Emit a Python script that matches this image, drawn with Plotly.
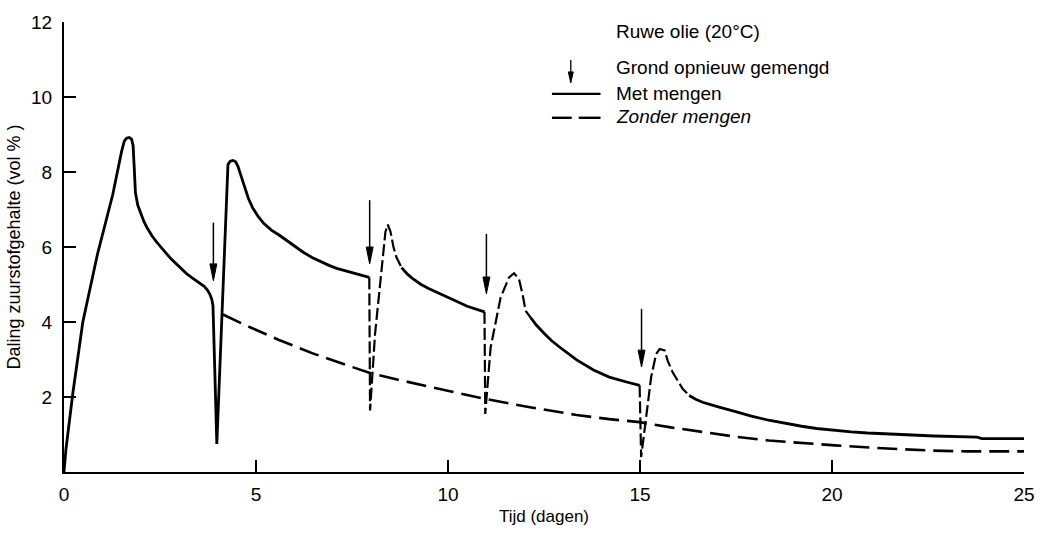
import plotly.graph_objects as go

# ---------------- data ----------------
# "Met mengen" curve, split into the solid and dashed stretches
met_solid_1_x = [0, 0.05, 0.23, 0.49, 0.87, 1.27, 1.5, 1.57, 1.63, 1.7, 1.76, 1.80, 1.83, 1.86, 1.92, 2.0,
                 2.08, 2.16, 2.29, 2.42, 2.55, 2.68, 2.8, 2.93, 3.06, 3.19, 3.32, 3.45, 3.55, 3.65, 3.73,
                 3.8, 3.85, 3.88, 3.98, 4.27, 4.33, 4.40, 4.47, 4.53, 4.6, 4.7, 4.8, 4.91, 5.05, 5.2, 5.4,
                 5.6, 5.8, 6.0, 6.23, 6.46, 6.7, 6.9, 7.1, 7.33, 7.6, 7.95]
met_solid_1_y = [0, 0.6, 2.1, 4.0, 5.8, 7.4, 8.55, 8.82, 8.9, 8.92, 8.88, 8.7, 8.1, 7.45, 7.12, 6.88,
                 6.68, 6.52, 6.3, 6.12, 5.95, 5.81, 5.67, 5.54, 5.41, 5.29, 5.19, 5.1, 5.03, 4.95, 4.86,
                 4.74, 4.6, 4.43, 0.75, 8.2, 8.29, 8.31, 8.27, 8.15, 7.93, 7.6, 7.3, 7.05, 6.82, 6.63, 6.45,
                 6.32, 6.17, 6.02, 5.86, 5.72, 5.6, 5.51, 5.43, 5.36, 5.28, 5.19]

met_dash_1_x = [7.95, 7.97, 8.10, 8.27, 8.37, 8.43, 8.50, 8.58, 8.66, 8.79]
met_dash_1_y = [5.19, 1.64, 3.68, 5.45, 6.4, 6.6, 6.42, 6.0, 5.72, 5.45]

met_solid_2_x = [8.79, 8.95, 9.1, 9.3, 9.48, 9.8, 10.12, 10.5, 10.95]
met_solid_2_y = [5.45, 5.27, 5.14, 5.0, 4.9, 4.74, 4.6, 4.42, 4.27]

met_dash_2_x = [10.95, 10.97, 11.11, 11.37, 11.59, 11.72, 11.85, 11.95, 12.02, 12.15]
met_dash_2_y = [4.27, 1.55, 3.32, 4.65, 5.19, 5.3, 5.14, 4.7, 4.3, 4.12]

met_solid_3_x = [12.15, 12.3, 12.5, 12.7, 12.92, 13.35, 13.79, 14.2, 14.65, 14.99]
met_solid_3_y = [4.12, 3.92, 3.7, 3.5, 3.32, 2.99, 2.72, 2.53, 2.4, 2.31]

met_dash_3_x = [14.99, 15.03, 15.16, 15.29, 15.42, 15.51, 15.64, 15.72, 15.85, 16.11, 16.28]
met_dash_3_y = [2.31, 0.4, 1.46, 2.53, 3.15, 3.28, 3.24, 2.97, 2.66, 2.22, 2.04]

met_solid_4_x = [16.28, 16.45, 16.63, 16.85, 17.06, 17.49, 17.9, 18.35, 18.8, 19.21, 19.6, 20.07, 20.5,
                 20.93, 21.8, 22.66, 23.78, 23.9, 25.0]
met_solid_4_y = [2.04, 1.94, 1.86, 1.79, 1.73, 1.61, 1.49, 1.38, 1.29, 1.22, 1.16, 1.11, 1.07,
                 1.04, 0.99, 0.96, 0.93, 0.89, 0.89]

# "Zonder mengen" curve
zonder_x = [4.14, 4.8, 5.6, 6.46, 7.33, 7.97, 8.7, 9.4, 10.2, 10.96, 12.06, 13.35, 14.2, 14.99, 15.8,
            16.63, 17.5, 18.35, 19.2, 20.07, 21.0, 21.8, 22.6, 23.52, 25.0]
zonder_y = [4.2, 3.88, 3.52, 3.17, 2.86, 2.64, 2.46, 2.3, 2.11, 1.95, 1.74, 1.52, 1.41, 1.33, 1.19,
            1.06, 0.94, 0.84, 0.77, 0.71, 0.65, 0.6, 0.57, 0.55, 0.55]

# Mixing arrows ("Grond opnieuw gemengd")
arrow_x = [3.89, 7.96, 11.0, 15.04]
arrow_top = [6.65, 7.25, 6.35, 4.35]
arrow_tip = [5.1, 5.55, 4.75, 2.8]

x_ticks = [0, 5, 10, 15, 20, 25]
y_ticks = [2, 4, 6, 8, 10, 12]

# ---------------- figure ----------------
FONT = "Liberation Sans, Arial, sans-serif"
W, H = 1047, 535
ML, MR, MT, MB = 63, 16, 21, 63
PW, PH = W - ML - MR, H - MT - MB


def px(xp):
    return (xp - ML) / PW


def py(yp):
    return (H - MB - yp) / PH


fig = go.Figure()

solid = dict(color="black", width=2.8)
dashed_rec = dict(color="black", width=2.2, dash="12px,4px")

for xs, ys in [(met_solid_1_x, met_solid_1_y), (met_solid_2_x, met_solid_2_y),
               (met_solid_3_x, met_solid_3_y), (met_solid_4_x, met_solid_4_y)]:
    fig.add_trace(go.Scatter(x=xs, y=ys, mode="lines", line=solid, showlegend=False, hoverinfo="skip"))

for xs, ys in [(met_dash_1_x, met_dash_1_y), (met_dash_2_x, met_dash_2_y), (met_dash_3_x, met_dash_3_y)]:
    fig.add_trace(go.Scatter(x=xs, y=ys, mode="lines", line=dashed_rec, showlegend=False, hoverinfo="skip"))

fig.add_trace(go.Scatter(x=zonder_x, y=zonder_y, mode="lines",
                         line=dict(color="black", width=2.6, dash="20px,8px"),
                         showlegend=False, hoverinfo="skip"))

# arrows: shaft + filled head
head_w = 0.09   # half width in x-units
head_l = 0.45   # length in y-units
for ax_, top, tip in zip(arrow_x, arrow_top, arrow_tip):
    fig.add_trace(go.Scatter(x=[ax_, ax_], y=[top, tip + head_l * 0.5], mode="lines",
                             line=dict(color="black", width=1.5), showlegend=False, hoverinfo="skip"))
    fig.add_trace(go.Scatter(x=[ax_ - head_w, ax_ + head_w, ax_, ax_ - head_w],
                             y=[tip + head_l, tip + head_l, tip, tip + head_l],
                             mode="lines", fill="toself", fillcolor="black",
                             line=dict(color="black", width=1), showlegend=False, hoverinfo="skip"))

# ---------------- legend block (decoration, in paper coords) ----------------
shapes = []
shapes.append(dict(type="line", xref="paper", yref="paper", x0=px(574), x1=px(574), y0=py(59), y1=py(74),
                   line=dict(color="black", width=1.3)))
shapes.append(dict(type="path", xref="paper", yref="paper",
                   path=f"M {px(571.5)},{py(71)} L {px(576.5)},{py(71)} L {px(574)},{py(82)} Z",
                   fillcolor="black", line=dict(color="black", width=1)))
shapes.append(dict(type="line", xref="paper", yref="paper", x0=px(555), x1=px(604), y0=py(93), y1=py(93),
                   line=dict(color="black", width=2.4)))
shapes.append(dict(type="line", xref="paper", yref="paper", x0=px(555), x1=px(575), y0=py(117), y1=py(117),
                   line=dict(color="black", width=2.4)))
shapes.append(dict(type="line", xref="paper", yref="paper", x0=px(582), x1=px(604), y0=py(117), y1=py(117),
                   line=dict(color="black", width=2.4)))

ann = []
leg_font = dict(family=FONT, size=19, color="black")
for txt, yp in [("Ruwe olie (20°C)", 31), ("Grond opnieuw gemengd", 67), ("Met mengen", 93),
                ("<i>Zonder mengen</i>", 116)]:
    ann.append(dict(text=txt, xref="paper", yref="paper", x=px(618), y=py(yp), xanchor="left",
                    yanchor="middle", showarrow=False, font=leg_font))

fig.update_layout(
    width=W, height=H,
    margin=dict(l=ML, r=MR, t=MT, b=MB, pad=0),
    paper_bgcolor="white", plot_bgcolor="white",
    shapes=shapes, annotations=ann,
    font=dict(family=FONT, color="black"),
    xaxis=dict(range=[0, 25], tickvals=x_ticks, ticktext=[str(v) for v in x_ticks],
               showline=True, linecolor="black", linewidth=2, mirror=False,
               ticks="inside", ticklen=12, tickwidth=1.5, tickcolor="black",
               showgrid=False, zeroline=False, tickfont=dict(size=19, family=FONT),
               ticklabelstandoff=4,
               title=dict(text="Tijd (dagen)", font=dict(size=17, family=FONT), standoff=6)),
    yaxis=dict(range=[0, 12], tickvals=y_ticks, ticktext=[str(v) for v in y_ticks],
               showline=True, linecolor="black", linewidth=2, mirror=False,
               ticks="inside", ticklen=12, tickwidth=1.5, tickcolor="black",
               showgrid=False, zeroline=False, tickfont=dict(size=19, family=FONT),
               ticklabelstandoff=6,
               title=dict(text="Daling zuurstofgehalte (vol % )", font=dict(size=18, family=FONT), standoff=6)),
)

fig.write_html("out.html")
